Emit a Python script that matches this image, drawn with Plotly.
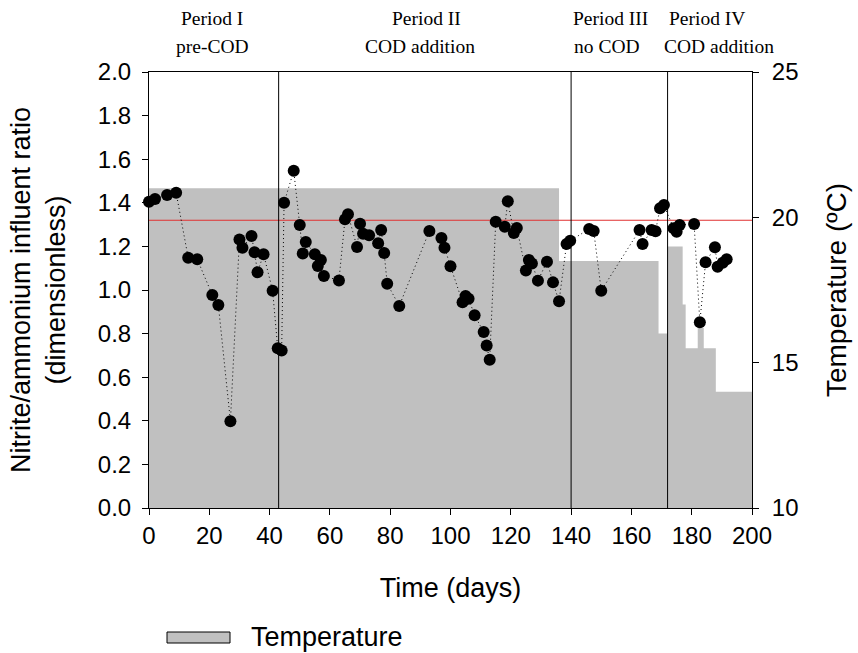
import plotly.graph_objects as go

# Ratio data (nitrite/ammonium influent ratio)
ratio_days = [0, 2, 6, 9, 13, 16, 21, 23, 27, 30, 31, 34, 35, 36, 38, 41, 42.7, 44, 44.8, 48,
              50, 51, 52, 55, 56, 57, 58, 63, 65, 66, 69, 70, 71, 73, 76, 77, 78, 79, 83,
              93, 97, 98, 100, 104, 105, 106, 108, 111, 112, 113, 115, 118, 119, 121, 122,
              125, 126, 127, 129, 132, 134, 136, 138.5, 139.7, 146, 147.5, 150,
              162.7, 163.7, 166.7, 168, 169.5, 170.8, 174, 175, 176, 180.8, 182.7, 184.6,
              187.7, 188.6, 190.3, 191.6]
ratio_vals = [1.405, 1.417, 1.436, 1.446, 1.148, 1.141, 0.977, 0.931, 0.398, 1.232, 1.194, 1.248,
              1.173, 1.081, 1.164, 0.997, 0.733, 0.723, 1.400, 1.547,
              1.298, 1.167, 1.220, 1.164, 1.110, 1.138, 1.064, 1.044, 1.324, 1.347, 1.197, 1.304,
              1.258, 1.251, 1.214, 1.275, 1.170, 1.029, 0.927,
              1.271, 1.239, 1.194, 1.109, 0.944, 0.972, 0.960, 0.884, 0.807, 0.745, 0.680, 1.313,
              1.290, 1.407, 1.261, 1.284,
              1.089, 1.138, 1.122, 1.043, 1.130, 1.035, 0.948, 1.211, 1.226, 1.280, 1.271, 0.997,
              1.275, 1.211, 1.275, 1.270, 1.375, 1.390, 1.283, 1.267, 1.298, 1.303, 0.852, 1.127,
              1.196, 1.107, 1.125, 1.141]

# Temperature step data
temp_days = [0, 136, 169, 172, 177, 178, 182, 184, 188, 200]
temp_vals = [21, 18.5, 16, 19, 17, 15.5, 16.2, 15.5, 14, 14]

# Reference line and period boundaries
ref_ratio = 1.32
period_bounds = [43, 140, 172]

# Period labels
period_line1 = ["Period I", "Period II", "Period III", "Period IV"]
period_line1_x = [21, 92, 153, 185]
period_line2 = ["pre-COD", "COD addition", "no COD", "COD addition"]
period_line2_x = [21, 90, 152, 189]

x_ticks = list(range(0, 201, 20))
left_ticks = [round(0.2 * i, 1) for i in range(11)]
right_ticks = [10, 15, 20, 25]

SANS = "Liberation Sans, Arial, sans-serif"
SERIF = "Liberation Serif, Times New Roman, serif"

fig = go.Figure()

fig.add_trace(go.Scatter(
    x=temp_days, y=temp_vals, yaxis="y", mode="lines", line_shape="hv",
    line=dict(width=0, color="#c0c0c0"), fill="tozeroy", fillcolor="#c0c0c0",
    showlegend=False, hoverinfo="skip"))

fig.add_trace(go.Scatter(
    x=[0, 200], y=[ref_ratio, ref_ratio], yaxis="y2", mode="lines",
    line=dict(color="#e03030", width=1.2), showlegend=False))

for b in period_bounds:
    fig.add_trace(go.Scatter(
        x=[b, b], y=[0, 2], yaxis="y2", mode="lines",
        line=dict(color="black", width=1), showlegend=False))

fig.add_trace(go.Scatter(
    x=ratio_days, y=ratio_vals, yaxis="y2", mode="lines+markers",
    line=dict(color="black", width=1, dash="1px,3px"),
    marker=dict(color="black", size=12), cliponaxis=False, showlegend=False))

annotations = []
for t, x in zip(period_line1, period_line1_x):
    annotations.append(dict(text=t, x=x, xref="x", y=(508 - 19) / 436, yref="paper",
                            showarrow=False, xanchor="center", yanchor="middle",
                            font=dict(family=SERIF, size=19.5, color="black")))
for t, x in zip(period_line2, period_line2_x):
    annotations.append(dict(text=t, x=x, xref="x", y=(508 - 47) / 436, yref="paper",
                            showarrow=False, xanchor="center", yanchor="middle",
                            font=dict(family=SERIF, size=19.5, color="black")))
annotations.append(dict(text="Temperature", x=(249 - 149) / 603, xref="paper",
                        y=(508 - 637) / 436, yref="paper", showarrow=False,
                        xanchor="left", yanchor="middle",
                        font=dict(family=SANS, size=27, color="black")))

fig.update_layout(
    width=858, height=653,
    margin=dict(l=149, r=106, t=72, b=145, autoexpand=False),
    plot_bgcolor="white", paper_bgcolor="white",
    font=dict(family=SANS, color="black"),
    xaxis=dict(range=[0, 200], tickvals=x_ticks, ticks="outside", ticklen=6,
               tickcolor="black", showline=True, linecolor="black", linewidth=1,
               mirror=True, showgrid=False, zeroline=False, automargin=False,
               tickfont=dict(size=24),
               title=dict(text="Time (days)", font=dict(size=27), standoff=30)),
    yaxis=dict(range=[10, 25], tickvals=right_ticks, side="right", ticks="outside",
               ticklen=6, tickcolor="black", showline=True, linecolor="black",
               linewidth=1, showgrid=False, zeroline=False, automargin=False,
               tickfont=dict(size=24), ticklabelstandoff=8,
               title=dict(text="Temperature (ºC)", font=dict(size=28), standoff=28)),
    yaxis2=dict(range=[0, 2], tickvals=left_ticks, tickformat=".1f", side="left",
                overlaying="y", anchor="x", ticks="outside", ticklen=6,
                tickcolor="black", showline=True, linecolor="black", linewidth=1,
                showgrid=False, zeroline=False, automargin=False,
                tickfont=dict(size=24), ticklabelstandoff=6,
                title=dict(text="Nitrite/ammonium influent ratio<br>(dimensionless)",
                           font=dict(size=27), standoff=24)),
    shapes=[dict(type="rect", xref="paper", yref="paper",
                 x0=(167 - 149) / 603, x1=(230 - 149) / 603,
                 y0=(508 - 643) / 436, y1=(508 - 632) / 436,
                 fillcolor="#c0c0c0", line=dict(color="black", width=1))],
    annotations=annotations,
)

fig.write_html("out.html", post_script="document.body.style.margin='0';",
               config={"displayModeBar": False})
